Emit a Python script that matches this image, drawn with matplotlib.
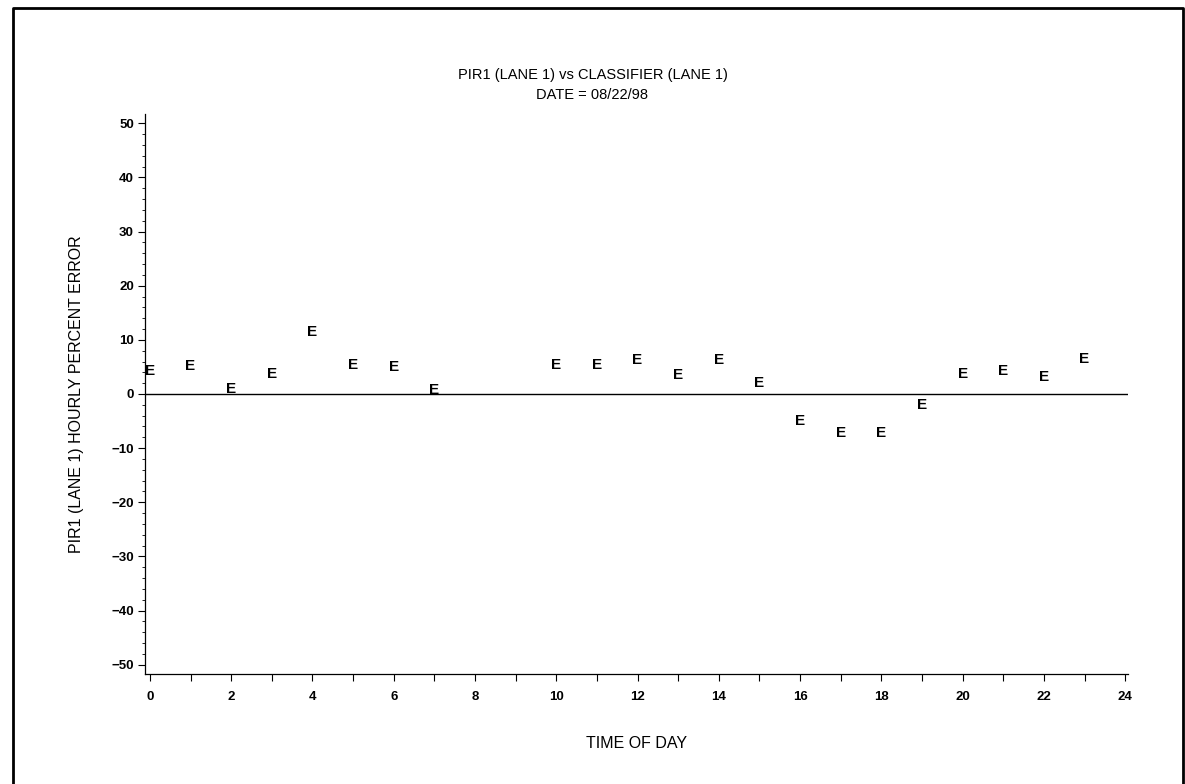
import matplotlib
matplotlib.use("Agg")
import matplotlib.pyplot as plt
from matplotlib.lines import Line2D
from matplotlib.ticker import MultipleLocator

plt.rcParams['font.family'] = ['Liberation Sans', 'DejaVu Sans']

hours = [0, 1, 2, 3, 4, 5, 6, 7, 10, 11, 12, 13, 14, 15, 16, 17, 18, 19, 20, 21, 22, 23]
pct_error = [4.2, 5.1, 0.9, 3.7, 11.5, 5.3, 4.9, 0.7, 5.3, 5.3, 6.3, 3.6, 6.3, 2.1,
             -5.0, -7.2, -7.2, -2.1, 3.7, 4.3, 3.2, 6.4]
xticks = list(range(0, 25, 2))
yticks = list(range(-50, 51, 10))

fig = plt.figure(figsize=(11.85, 7.84), dpi=100)
ax = fig.add_axes([0.1224, 0.1403, 0.8295, 0.7143])

ax.set_xlim(-0.12, 24.07)
ax.set_ylim(-51.7, 51.7)
ax.axhline(0, color='black', lw=1.0)

for h, e in zip(hours, pct_error):
    ax.text(h, e, 'E', ha='center', va='center', fontsize=11, fontweight='bold')

ax.spines['top'].set_visible(False)
ax.spines['right'].set_visible(False)
ax.spines['left'].set_linewidth(0.9)
ax.spines['bottom'].set_linewidth(0.9)

ax.set_xticks(xticks)
ax.xaxis.set_minor_locator(MultipleLocator(1))
ax.set_yticks(yticks)
ax.set_yticklabels([str(v).replace('-', '\u2212') for v in yticks])
ax.yaxis.set_minor_locator(MultipleLocator(2))
ax.tick_params(axis='both', which='major', length=5, width=0.8, labelsize=9.5, direction='out')
ax.tick_params(axis='x', which='minor', length=5, width=0.8)
ax.tick_params(axis='y', which='minor', length=2.5, width=0.6)
for lab in ax.get_xticklabels() + ax.get_yticklabels():
    lab.set_fontweight('bold')
ax.tick_params(axis='x', pad=7)
ax.tick_params(axis='y', pad=3)

ax.set_xlabel('TIME OF DAY', fontsize=11.5, labelpad=24)
ax.set_ylabel('PIR1 (LANE 1) HOURLY PERCENT ERROR', fontsize=11.5, labelpad=20)

fig.text(0.5, 0.904, 'PIR1 (LANE 1) vs CLASSIFIER (LANE 1)', ha='center', va='center', fontsize=10.5)
fig.text(0.5, 0.879, 'DATE = 08/22/98', ha='center', va='center', fontsize=10.5)

# page border (left, top, right)
fig.add_artist(Line2D([0.011, 0.011, 0.9983, 0.9983], [0.0, 0.9898, 0.9898, 0.0],
                      transform=fig.transFigure, color='black', lw=2))

fig.savefig('out.png', dpi=100)
